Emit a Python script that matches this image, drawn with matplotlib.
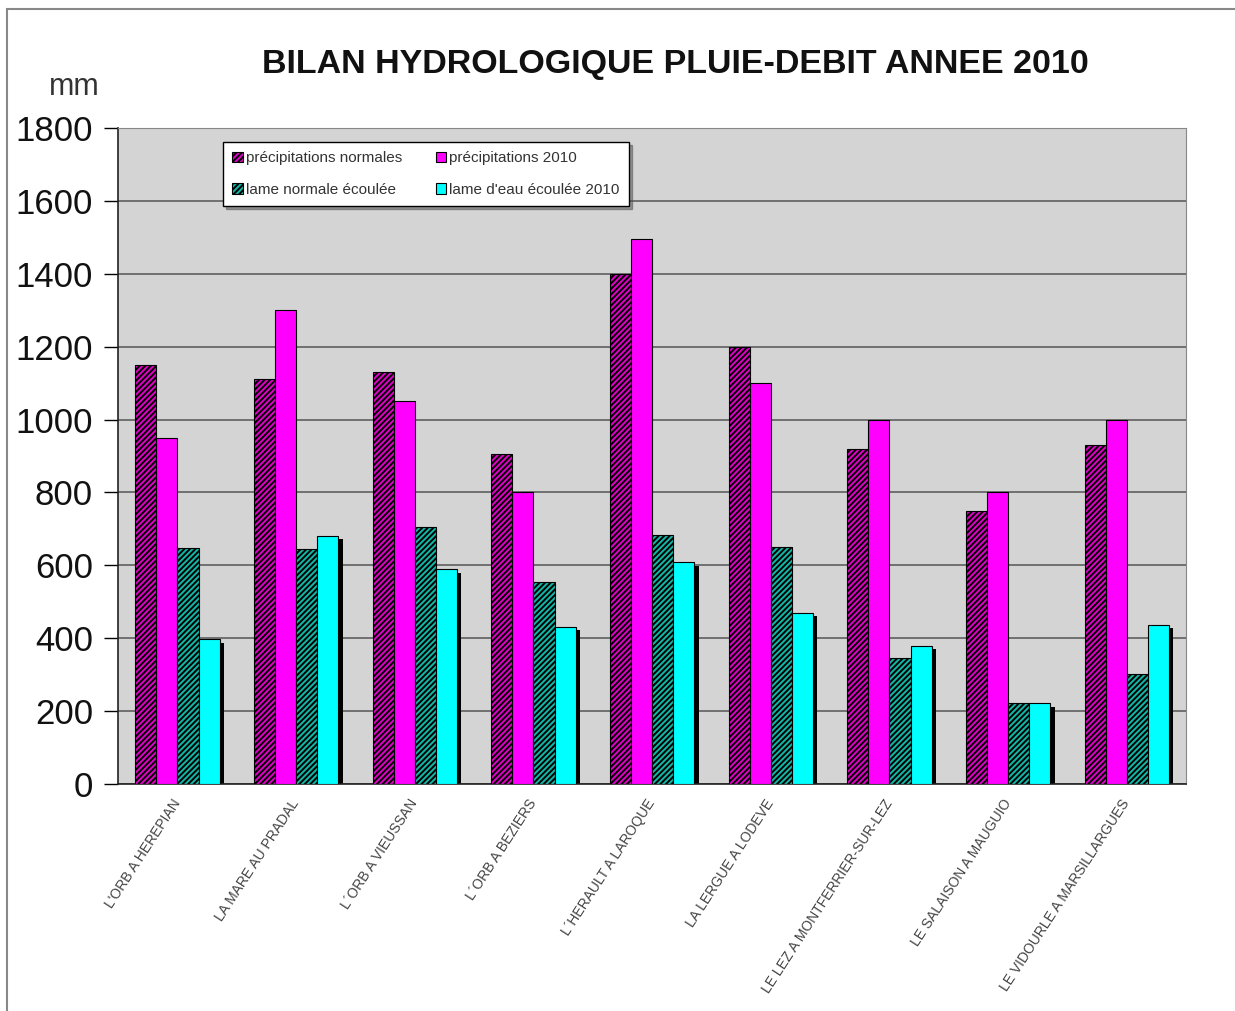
#!/usr/bin/env python
# -*- coding: utf-8 -*-
"""
Bilan hydrologique pluie-débit, année 2010
"""

import numpy as np
import matplotlib
matplotlib.use('Agg')
import matplotlib.pyplot as plt
from matplotlib.patches import Rectangle

plt.rcParams['font.family'] = ['Liberation Sans', 'DejaVu Sans']
plt.rcParams['hatch.linewidth'] = 1.4

# données (mm)
stations = ["L'ORB A HEREPIAN", "LA MARE AU PRADAL", "L´ORB A VIEUSSAN",
            "L´ORB A BEZIERS", "L´HERAULT A LAROQUE", "LA LERGUE A LODEVE",
            "LE LEZ A MONTFERRIER-SUR-LEZ", "LE SALAISON A MAUGUIO",
            "LE VIDOURLE A MARSILLARGUES"]
precip_normales = [1150, 1110, 1130, 905, 1400, 1200, 920, 750, 930]
precip_2010 = [950, 1300, 1050, 800, 1495, 1100, 1000, 800, 1000]
lame_normale = [648, 645, 705, 555, 682, 650, 345, 222, 303]
lame_2010 = [397, 681, 590, 432, 609, 470, 380, 222, 437]

series = [
    ('précipitations normales', precip_normales, '#e000c8', '//////'),
    ('précipitations 2010', precip_2010, '#ff00ff', None),
    ('lame normale écoulée', lame_normale, '#10b8a8', '//////'),
    ("lame d'eau écoulée 2010", lame_2010, '#00ffff', None),
]

fig = plt.figure(figsize=(12.35, 10.11), dpi=100)
ax = fig.add_axes([118 / 1235, 1 - 784 / 1011, 1068 / 1235, 656 / 1011])
ax.set_facecolor('#d4d4d4')

x = np.arange(len(stations))
w = 0.178
start = -0.5 + 0.145

handles = []
for i, (label, vals, color, hatch) in enumerate(series):
    pos = x + start + i * w
    if i == len(series) - 1:
        # ombre portée de la dernière barre du groupe
        ax.bar(pos + 0.035, np.array(vals) - 10, width=w, align='edge',
               color='black', zorder=2)
    b = ax.bar(pos, vals, width=w, align='edge', color=color,
               edgecolor='black', linewidth=0.8, hatch=hatch, zorder=3,
               label=label)
    handles.append(b)

ax.set_xlim(-0.5, len(stations) - 0.5)
ax.set_ylim(0, 1800)
ax.set_yticks(np.arange(0, 1801, 200))
ax.tick_params(axis='y', labelsize=25, length=10, width=1, pad=8,
               labelcolor='#111111')
ax.grid(True, axis='y', color='#555555', linewidth=1.1, zorder=1)
ax.set_axisbelow(True)

ax.set_xticks(x)
ax.set_xticklabels(stations, rotation=57, ha='right', va='center',
                   rotation_mode='anchor', fontsize=10, color='#444444')
ax.tick_params(axis='x', length=0, pad=12)

for s in ['top', 'right']:
    ax.spines[s].set_color('#888888')
    ax.spines[s].set_linewidth(0.8)
for s in ['left', 'bottom']:
    ax.spines[s].set_color('#222222')
    ax.spines[s].set_linewidth(1.2)

# ordre des colonnes : ligne 1 = précipitations, ligne 2 = lames
ordre = [handles[0], handles[2], handles[1], handles[3]]
leg = ax.legend(handles=ordre, ncol=2, loc='upper left',
                bbox_to_anchor=(0.091, 0.99), fontsize=11, frameon=True,
                fancybox=False, shadow=True, edgecolor='black',
                handlelength=0.7, handleheight=0.7, handletextpad=0.2,
                columnspacing=2.2, labelspacing=1.15, borderpad=0.6,
                labelcolor='#333333')
leg.get_frame().set_linewidth(1.0)
leg.get_frame().set_facecolor('white')

fig.text(675 / 1235, 1 - 64 / 1011, 'BILAN HYDROLOGIQUE PLUIE-DEBIT ANNEE 2010',
         ha='center', va='center', fontsize=24.5, fontweight='bold', color='#111111')
fig.text(74 / 1235, 1 - 87 / 1011, 'mm', ha='center', va='center',
         fontsize=22, color='#333333')

# cadre du graphique
fig.patches.append(Rectangle((7 / 1235, -0.05), 1.2, 1 - 9 / 1011 + 0.05,
                             transform=fig.transFigure, fill=False,
                             edgecolor='#888888', linewidth=1.5))

plt.savefig('out.png', dpi=100)
plt.close()
